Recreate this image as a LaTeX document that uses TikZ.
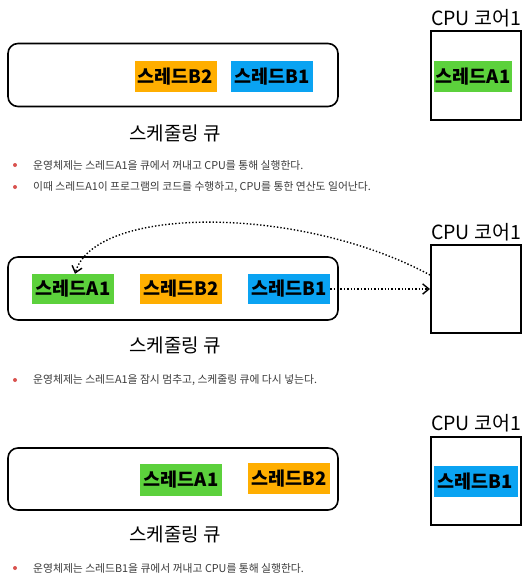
\documentclass[tikz,border=0pt]{standalone}
\usepackage{fontspec}
\setmainfont{Noto Sans CJK KR}
\usepackage{tikz}
\usetikzlibrary{arrows.meta,positioning,calc}
\definecolor{thrgreen}{HTML}{5CD13C}
\definecolor{throrange}{HTML}{FFAE00}
\definecolor{thrblue}{HTML}{0AA3F2}
\definecolor{dotred}{HTML}{D9534F}
\definecolor{notegray}{HTML}{3A3A3A}
\tikzset{
  >={Straight Barb[length=2.2mm,width=3.6mm]},
  thread/.style={inner sep=0pt,minimum width=82pt,minimum height=31pt,
    font=\fontsize{18.5}{20}\selectfont\bfseries},
  greenthr/.style={thread,fill=thrgreen},
  orangethr/.style={thread,fill=throrange},
  bluethr/.style={thread,fill=thrblue},
  queuebox/.style={draw,line width=1.6pt,rounded corners=10pt,
    minimum width=330pt,minimum height=63pt},
  corebox/.style={draw,line width=2pt,minimum width=90pt,minimum height=88pt},
  corelabel/.style={font=\fontsize{19.5}{21}\selectfont},
  qlabel/.style={font=\fontsize{19}{21}\selectfont},
  note/.style={anchor=west,text=notegray,font=\fontsize{10.8}{12}\selectfont,inner sep=0pt},
  bdot/.style={circle,fill=dotred,inner sep=0pt,minimum size=4pt},
  move/.style={->,line width=1.4pt,dotted}
}
\begin{document}
\begin{tikzpicture}[x=1pt,y=-1pt]
  \useasboundingbox (0,0) rectangle (528,576);
  % step 1
  \node[queuebox] (q1) at (173,75) {};
  \node[orangethr] (b2s1) at (175.5,76.5) {스레드B2};
  \node[bluethr] (b1s1) at (272,76.5) {스레드B1};
  \node[corebox,minimum height=89pt] (core1) at (476,75.5) {};
  \node[corelabel] (cl1) at (476,18) {CPU 코어1};
  \node[greenthr,minimum width=78pt] (a1s1) at (473,76.5) {스레드A1};
  \node[qlabel] (ql1) at (175,133) {스케줄링 큐};
  \node[bdot] (d11) at (15,165) {};
  \node[note] (n11) at (33,165) {운영체제는 스레드A1을 큐에서 꺼내고 CPU를 통해 실행한다.};
  \node[bdot] (d12) at (15,187) {};
  \node[note] (n12) at (33,187) {이때 스레드A1이 프로그램의 코드를 수행하고, CPU를 통한 연산도 일어난다.};
  % step 2
  \node[queuebox] (q2) at (173,288.5) {};
  \node[greenthr,minimum height=30pt] (a1s2) at (73,289) {스레드A1};
  \node[orangethr,minimum height=30pt] (b2s2) at (181,289) {스레드B2};
  \node[bluethr,minimum height=30pt] (b1s2) at (289,289) {스레드B1};
  \node[corebox] (core2) at (476,289) {};
  \node[corelabel] (cl2) at (476,232) {CPU 코어1};
  \node[qlabel] (ql2) at (175,345) {스케줄링 큐};
  \node[bdot] (d21) at (15,380) {};
  \node[note] (n21) at (33,380) {운영체제는 스레드A1을 잠시 멈추고, 스케줄링 큐에 다시 넣는다.};
  \draw[move] (b1s2.east) -- (core2.west);
  \draw[move] ([yshift=14pt]core2.west) .. controls (300,205) and (95,205) .. ([xshift=2pt]a1s2.north);
  % step 3
  \node[queuebox,minimum height=62pt] (q3) at (173,479) {};
  \node[greenthr,minimum height=32pt] (a1s3) at (181,480) {스레드A1};
  \node[orangethr] (b2s3) at (289,478.5) {스레드B2};
  \node[corebox] (core3) at (476,481) {};
  \node[corelabel] (cl3) at (476,423) {CPU 코어1};
  \node[bluethr,minimum width=84pt] (b1s3) at (475.5,481.5) {스레드B1};
  \node[qlabel] (ql3) at (175,534) {스케줄링 큐};
  \node[bdot] (d31) at (15,568) {};
  \node[note] (n31) at (33,568) {운영체제는 스레드B1을 큐에서 꺼내고 CPU를 통해 실행한다.};
\end{tikzpicture}
\end{document}
